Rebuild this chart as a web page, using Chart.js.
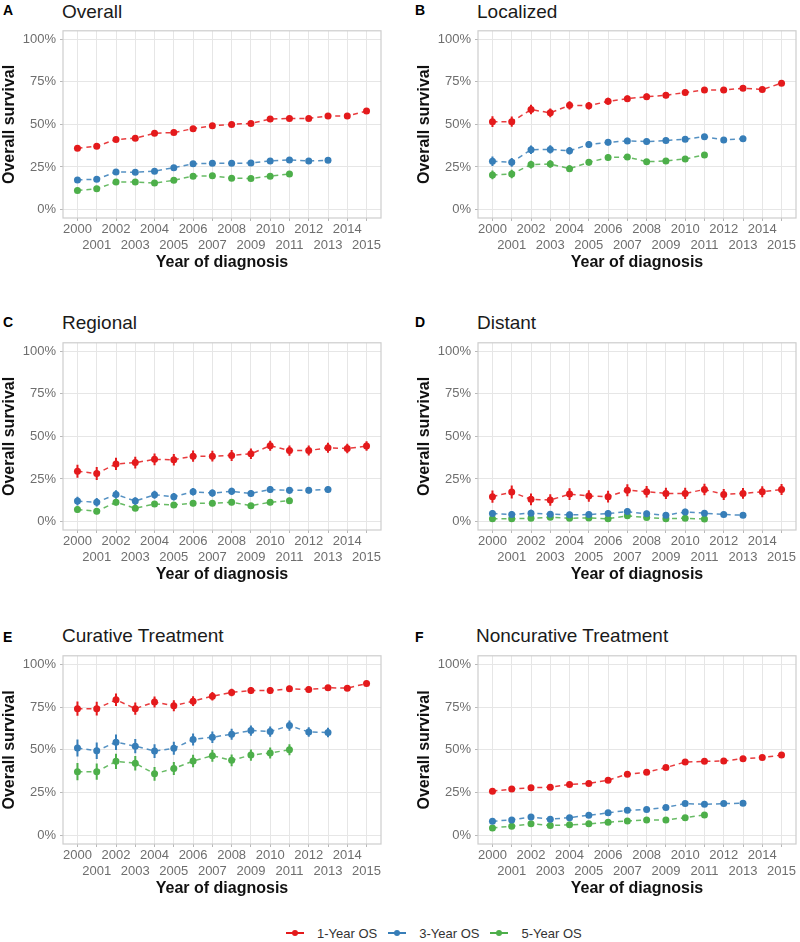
<!DOCTYPE html>
<html>
<head>
<meta charset="utf-8">
<script src="https://cdn.jsdelivr.net/npm/chart.js@4.4.0/dist/chart.umd.min.js"></script>
<style>
  body { margin: 0; width: 800px; height: 942px; background: #fff; position: relative; overflow: hidden;
         font-family: "Liberation Sans", Arial, sans-serif; }
  canvas { position: absolute; }
  .letter { position: absolute; font-size: 14px; line-height: 14px; font-weight: bold; color: #000; }
  .title { position: absolute; font-size: 19px; line-height: 19px; color: #1a1a1a; white-space: nowrap; }
  #legend { position: absolute; top: 925px; left: 286px; height: 16px; display: flex; align-items: center;
            font-size: 13px; color: #333; }
  .key { position: relative; width: 18px; height: 16px; margin-right: 13px; }
  .key::before { content: ''; position: absolute; left: 0; right: 0; top: 7px; height: 2px; background: var(--c); }
  .key::after { content: ''; position: absolute; left: 6px; top: 5px; width: 6px; height: 6px; border-radius: 50%; background: var(--c); }
  .lab { margin-right: 11px; white-space: nowrap; }
</style>
</head>
<body>

<div class="letter" style="left:3px;top:3px">A</div><div class="title" style="left:62px;top:2px">Overall</div>
<div class="letter" style="left:415px;top:3px">B</div><div class="title" style="left:477px;top:2px">Localized</div>
<div class="letter" style="left:3px;top:315px">C</div><div class="title" style="left:62px;top:313px">Regional</div>
<div class="letter" style="left:415px;top:315px">D</div><div class="title" style="left:477px;top:313px">Distant</div>
<div class="letter" style="left:3px;top:630px">E</div><div class="title" style="left:62px;top:626px">Curative Treatment</div>
<div class="letter" style="left:415px;top:630px">F</div><div class="title" style="left:476px;top:626px">Noncurative Treatment</div>

<canvas id="cA" width="400" height="255" style="left:0;top:19px"></canvas>
<canvas id="cB" width="385" height="255" style="left:415px;top:19px"></canvas>
<canvas id="cC" width="400" height="255" style="left:0;top:331px"></canvas>
<canvas id="cD" width="385" height="255" style="left:415px;top:331px"></canvas>
<canvas id="cE" width="400" height="256" style="left:0;top:644px"></canvas>
<canvas id="cF" width="385" height="256" style="left:415px;top:644px"></canvas>

<div id="legend"></div>

<script>
const years = [2000, 2001, 2002, 2003, 2004, 2005, 2006, 2007, 2008, 2009, 2010, 2011, 2012, 2013, 2014, 2015];
const yTicks = [0, 25, 50, 75, 100];
const seriesNames = ['1-Year OS', '3-Year OS', '5-Year OS'];
const colors = ['#E41A1C', '#377EB8', '#4DAF4A'];
const lineColors = ['rgba(228,26,28,0.85)', 'rgba(55,126,184,0.85)', 'rgba(77,175,74,0.85)'];

// A - Overall
const overall1 = [36.0, 37.2, 41.1, 41.9, 44.8, 45.2, 47.5, 49.2, 50.0, 50.6, 53.1, 53.5, 53.5, 55.0, 55.0, 57.9];
const overall3 = [17.4, 17.8, 22.1, 21.9, 22.5, 24.6, 26.9, 27.1, 27.1, 27.3, 28.5, 29.1, 28.5, 28.9];
const overall5 = [11.2, 12.2, 16.1, 16.1, 15.5, 17.2, 19.6, 19.8, 18.4, 18.2, 19.6, 20.9];
const overall1Err = [1.2, 1.2, 1.1, 1.1, 1.1, 1.0, 1.0, 1.0, 1.0, 1.0, 1.0, 1.0, 1.0, 0.9, 0.9, 0.9];
const overall3Err = [1.0, 1.0, 1.0, 1.0, 1.0, 0.9, 0.9, 0.9, 0.9, 0.9, 0.9, 0.9, 0.9, 0.9];
const overall5Err = [0.9, 0.9, 0.9, 0.9, 0.8, 0.8, 0.8, 0.8, 0.8, 0.8, 0.8, 0.8];

// B - Localized
const local1 = [51.6, 51.6, 58.7, 56.8, 61.2, 61.0, 63.6, 65.1, 66.3, 67.1, 68.8, 70.2, 70.2, 71.3, 70.5, 74.2];
const local3 = [28.3, 27.7, 35.1, 35.3, 34.5, 38.2, 39.5, 40.3, 39.9, 40.5, 41.3, 42.8, 40.9, 41.5];
const local5 = [20.3, 20.9, 26.4, 26.7, 24.0, 27.7, 30.6, 30.8, 28.1, 28.5, 29.7, 32.0];
const local1Err = [3.2, 3.0, 2.8, 2.6, 2.4, 2.2, 2.0, 1.9, 1.8, 1.7, 1.6, 1.5, 1.5, 1.4, 1.4, 1.3];
const local3Err = [2.8, 2.6, 2.5, 2.4, 2.2, 2.0, 1.9, 1.8, 1.7, 1.6, 1.6, 1.5, 1.5, 1.4];
const local5Err = [2.6, 2.5, 2.3, 2.2, 2.0, 1.9, 1.8, 1.7, 1.6, 1.5, 1.5, 1.4];

// C - Regional
const regional1 = [29.5, 28.2, 33.8, 34.6, 36.5, 36.3, 38.4, 38.4, 38.8, 39.8, 44.5, 41.7, 41.7, 43.3, 42.9, 44.3];
const regional3 = [12.0, 11.3, 15.9, 12.0, 15.7, 14.6, 17.5, 16.7, 17.7, 16.5, 18.8, 18.3, 18.4, 18.8];
const regional5 = [7.0, 6.0, 11.3, 7.8, 10.3, 9.7, 10.7, 10.7, 11.3, 9.3, 11.3, 12.2];
const regional1Err = [3.8, 3.8, 3.6, 3.5, 3.4, 3.4, 3.3, 3.2, 3.2, 3.1, 3.0, 3.0, 2.9, 2.9, 2.8, 2.8];
const regional3Err = [2.6, 2.5, 2.5, 2.3, 2.3, 2.2, 2.2, 2.1, 2.1, 2.0, 2.0, 2.0, 1.9, 1.9];
const regional5Err = [1.9, 1.8, 1.9, 1.7, 1.8, 1.7, 1.8, 1.7, 1.7, 1.6, 1.7, 1.7];

// D - Distant
const distant1 = [14.6, 17.3, 13.0, 12.6, 16.1, 15.0, 14.6, 18.4, 17.5, 16.5, 16.5, 18.8, 15.9, 16.5, 17.5, 18.8];
const distant3 = [4.7, 4.1, 4.9, 4.3, 3.9, 4.1, 4.7, 5.8, 4.5, 3.7, 5.6, 4.9, 4.1, 3.7];
const distant5 = [1.6, 1.6, 1.9, 2.5, 1.9, 2.1, 1.6, 3.3, 2.3, 1.6, 1.9, 1.4];
const distant1Err = [3.6, 3.8, 3.4, 3.4, 3.5, 3.4, 3.4, 3.5, 3.4, 3.3, 3.3, 3.4, 3.2, 3.2, 3.2, 3.3];
const distant3Err = [2.0, 2.0, 2.0, 1.9, 1.8, 1.8, 1.9, 2.0, 1.8, 1.7, 1.9, 1.8, 1.6, 1.6];
const distant5Err = [1.2, 1.2, 1.3, 1.3, 1.2, 1.2, 1.1, 1.5, 1.2, 1.1, 1.2, 1.1];

// E - Curative treatment
const curative1 = [74.1, 74.1, 79.3, 74.1, 78.0, 75.8, 78.5, 81.4, 83.6, 84.7, 84.7, 85.7, 85.3, 86.3, 86.1, 88.8];
const curative3 = [51.1, 49.5, 54.5, 52.2, 49.3, 50.9, 56.1, 57.4, 59.2, 61.3, 60.7, 64.2, 60.5, 60.2];
const curative5 = [37.3, 37.3, 43.3, 42.2, 36.0, 39.1, 43.5, 46.6, 43.9, 47.0, 48.2, 50.1];
const curative1Err = [4.2, 4.0, 3.6, 3.6, 3.2, 3.2, 2.8, 2.5, 2.2, 2.0, 2.0, 1.8, 1.8, 1.6, 1.6, 1.4];
const curative3Err = [5.0, 4.8, 4.5, 4.2, 4.0, 3.8, 3.5, 3.4, 3.2, 3.0, 3.0, 3.0, 2.8, 2.8];
const curative5Err = [5.0, 4.8, 4.5, 4.2, 4.0, 3.8, 3.6, 3.5, 3.4, 3.3, 3.2, 3.2];

// F - Noncurative treatment
const noncur1 = [25.9, 27.1, 27.9, 28.2, 29.8, 30.4, 32.3, 35.8, 36.9, 39.7, 42.9, 43.3, 43.5, 44.9, 45.5, 47.0];
const noncur3 = [8.3, 9.1, 10.8, 9.5, 10.4, 11.8, 13.2, 14.7, 15.1, 16.4, 18.6, 18.2, 18.6, 18.8];
const noncur5 = [4.4, 5.4, 6.8, 5.8, 6.2, 6.8, 7.7, 8.5, 9.1, 9.1, 10.4, 12.0];
const noncur1Err = [1.4, 1.4, 1.4, 1.3, 1.3, 1.3, 1.3, 1.3, 1.3, 1.3, 1.3, 1.3, 1.3, 1.2, 1.2, 1.2];
const noncur3Err = [1.0, 1.0, 1.0, 1.0, 1.0, 1.0, 1.0, 1.1, 1.1, 1.1, 1.1, 1.1, 1.1, 1.1];
const noncur5Err = [0.8, 0.8, 0.8, 0.8, 0.8, 0.8, 0.8, 0.8, 0.8, 0.8, 0.9, 0.9];

Chart.defaults.font.family = '"Liberation Sans", Arial, sans-serif';

// grey border round the plot area, like the ggplot panel border
const frame = {
  id: 'frame',
  beforeDatasetsDraw(chart) {
    const a = chart.chartArea, ctx = chart.ctx;
    ctx.save();
    ctx.strokeStyle = '#cdcdcd';
    ctx.lineWidth = 1.2;
    ctx.strokeRect(a.left, a.top, a.right - a.left, a.bottom - a.top);
    ctx.restore();
  }
};

function makeChart(id, vals, errs, padRight) {
  const datasets = [];
  vals.forEach((v, k) => {
    datasets.push({
      type: 'line',
      label: seriesNames[k],
      data: v.map((y, i) => ({ x: years[i], y: y })),
      borderColor: lineColors[k],
      borderWidth: 1.5,
      borderDash: [5, 4],
      pointRadius: 3.5,
      pointBackgroundColor: colors[k],
      pointBorderWidth: 0,
      fill: false,
      tension: 0
    });
  });
  // confidence intervals as thin floating bars
  vals.forEach((v, k) => {
    datasets.push({
      type: 'bar',
      label: seriesNames[k] + ' CI',
      data: v.map((y, i) => ({ x: years[i], y: [y - errs[k][i], y + errs[k][i]] })),
      backgroundColor: colors[k],
      borderWidth: 0,
      grouped: false,
      maxBarThickness: 2
    });
  });

  const gridOpts = { color: '#e6e6e6', lineWidth: 1, tickColor: '#b8b8b8', tickLength: 3, offset: false };

  return new Chart(document.getElementById(id), {
    type: 'line',
    data: { datasets: datasets },
    plugins: [frame],
    options: {
      responsive: false,
      animation: false,
      events: [],
      layout: { padding: { top: 10, left: 0, right: padRight, bottom: 0 } },
      plugins: { legend: { display: false }, tooltip: { enabled: false } },
      scales: {
        x: {
          type: 'linear',
          min: 1999.25,
          max: 2015.75,
          offset: false,
          afterBuildTicks: s => { s.ticks = years.map(v => ({ value: v })); },
          afterFit: s => { s.height = 56; },
          grid: gridOpts,
          border: { display: false },
          ticks: {
            autoSkip: false, maxRotation: 0, minRotation: 0, padding: 1,
            color: '#6e6e6e', font: { size: 13 },
            callback: v => (v % 2 === 0 ? [String(v), ''] : ['', String(v)])
          },
          title: {
            display: true, text: 'Year of diagnosis', color: '#111',
            font: { size: 16, weight: 'bold' }, padding: { top: 0, bottom: 2 }
          }
        },
        y: {
          min: -5,
          max: 105,
          afterBuildTicks: s => { s.ticks = yTicks.map(v => ({ value: v })); },
          afterFit: s => { s.width = 63; },
          grid: gridOpts,
          border: { display: false },
          ticks: { padding: 4, color: '#6e6e6e', font: { size: 13 }, callback: v => v + '%' },
          title: {
            display: true, text: 'Overall survival', color: '#111',
            font: { size: 16, weight: 'bold' }, padding: { top: 0, bottom: 0 }
          }
        }
      }
    }
  });
}

makeChart('cA', [overall1, overall3, overall5], [overall1Err, overall3Err, overall5Err], 19);
makeChart('cB', [local1, local3, local5], [local1Err, local3Err, local5Err], 4);
makeChart('cC', [regional1, regional3, regional5], [regional1Err, regional3Err, regional5Err], 19);
makeChart('cD', [distant1, distant3, distant5], [distant1Err, distant3Err, distant5Err], 4);
makeChart('cE', [curative1, curative3, curative5], [curative1Err, curative3Err, curative5Err], 19);
makeChart('cF', [noncur1, noncur3, noncur5], [noncur1Err, noncur3Err, noncur5Err], 4);

const legend = document.getElementById('legend');
seriesNames.forEach((name, k) => {
  const key = document.createElement('span');
  key.className = 'key';
  key.style.setProperty('--c', colors[k]);
  const lab = document.createElement('span');
  lab.className = 'lab';
  lab.textContent = name;
  legend.appendChild(key);
  legend.appendChild(lab);
});
</script>
</body>
</html>
